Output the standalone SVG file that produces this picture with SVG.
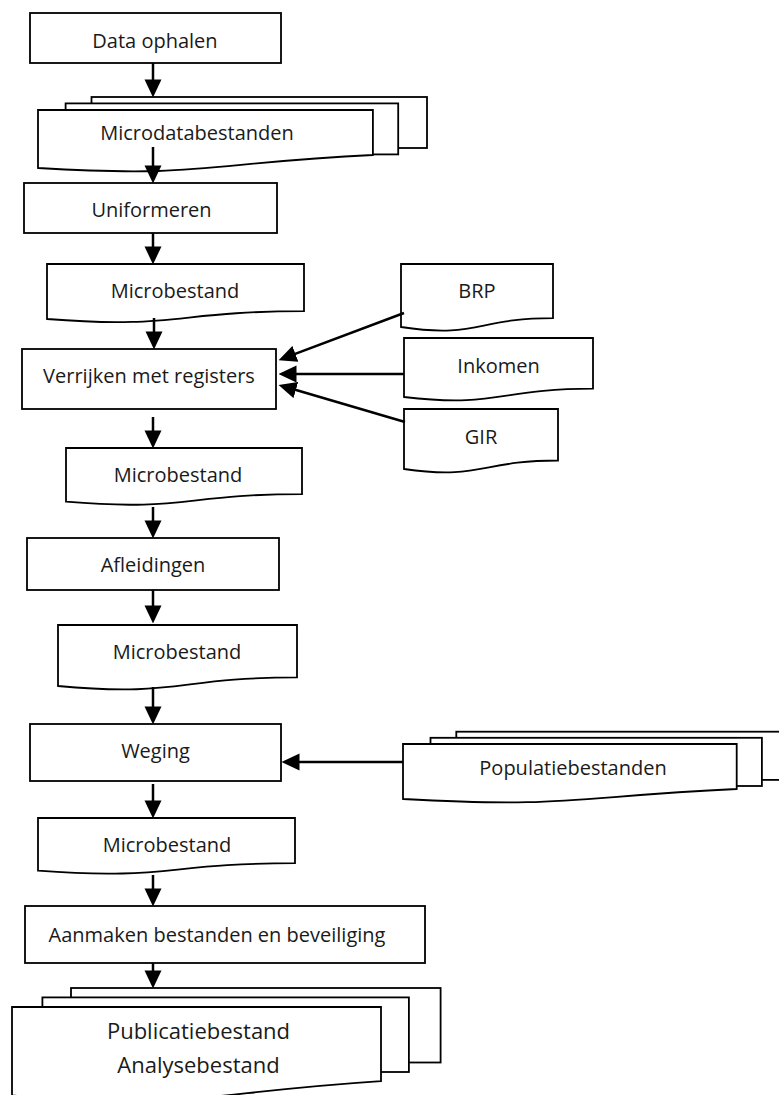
<svg xmlns="http://www.w3.org/2000/svg" width="779" height="1095" viewBox="0 0 779 1095">
<defs>
<style>
.box{fill:#fff;stroke:#000;stroke-width:1.8}
.t{font-family:"Open Sans","Noto Sans",sans-serif;font-size:20px;fill:#1a1a1a;text-anchor:middle}
.tb{font-size:22px}
.c{stroke:#000;stroke-width:2.5;fill:none;marker-end:url(#ah)}
</style>
<marker id="ah" markerUnits="userSpaceOnUse" markerWidth="18" markerHeight="18" viewBox="0 0 17 16" refX="9" refY="8" orient="auto">
<path d="M0,0 L17,8 L0,16 Z" fill="#000"/>
</marker>
</defs>
<rect width="779" height="1095" fill="#fff"/>

<g id="data-ophalen">
<rect class="box" x="30" y="13" width="251" height="50"/>
<text class="t" x="155" y="48">Data ophalen</text>
</g>

<g id="microdatabestanden">
<rect class="box" x="91.5" y="97" width="335.5" height="51"/>
<rect class="box" x="65.6" y="103.4" width="332.6" height="51"/>
<path class="box" d="M38,110 H372.9 V155 C205.3,163 205.3,178 38,168 Z"/>
<text class="t" x="197" y="140">Microdatabestanden</text>
</g>

<g id="uniformeren">
<rect class="box" x="24" y="183" width="253" height="50"/>
<text class="t" x="151.5" y="217">Uniformeren</text>
</g>

<g id="microbestand-1">
<path class="box" d="M47,264 H304 V311.2 C175.5,311.2 175.5,329.2 47,319 Z"/>
<text class="t" x="175" y="298">Microbestand</text>
</g>

<g id="verrijken">
<rect class="box" x="22" y="349" width="254" height="60"/>
<text class="t" x="149" y="383">Verrijken met registers</text>
</g>

<g id="brp">
<path class="box" d="M401,264 H553 V318.1 C477,318.1 477,338.7 401,327 Z"/>
<text class="t" x="477" y="298">BRP</text>
</g>

<g id="inkomen">
<path class="box" d="M404,338 H593 V388.7 C498.5,388.7 498.5,408 404,397 Z"/>
<text class="t" x="498.5" y="373">Inkomen</text>
</g>

<g id="gir">
<path class="box" d="M404,409 H558 V460.5 C481,460.5 481,480.1 404,469 Z"/>
<text class="t" x="481" y="444">GIR</text>
</g>

<g id="microbestand-2">
<path class="box" d="M66,448 H302 V494.1 C184,494.1 184,511.7 66,501.7 Z"/>
<text class="t" x="178" y="482">Microbestand</text>
</g>

<g id="afleidingen">
<rect class="box" x="27" y="538" width="252" height="52"/>
<text class="t" x="153" y="572">Afleidingen</text>
</g>

<g id="microbestand-3">
<path class="box" d="M58,625 H297 V677.4 C177.5,677.4 177.5,697.3 58,686 Z"/>
<text class="t" x="177" y="659">Microbestand</text>
</g>

<g id="weging">
<rect class="box" x="30" y="724" width="251" height="57"/>
<text class="t" x="155.5" y="758">Weging</text>
</g>

<g id="populatiebestanden">
<rect class="box" x="456.3" y="731.7" width="334.3" height="48.2"/>
<rect class="box" x="430.5" y="737.8" width="331.4" height="48.2"/>
<path class="box" d="M403,744 H736.7 V789 C569.7,797 569.7,808 403,799 Z"/>
<text class="t" x="573" y="775">Populatiebestanden</text>
</g>

<g id="microbestand-4">
<path class="box" d="M38,818 H295 V863.2 C166.5,863.2 166.5,880.5 38,870.7 Z"/>
<text class="t" x="167" y="852">Microbestand</text>
</g>

<g id="aanmaken">
<rect class="box" x="25" y="906" width="400" height="57"/>
<text class="t" x="217" y="942">Aanmaken bestanden en beveiliging</text>
</g>

<g id="publicatiebestand">
<rect class="box" x="71" y="988" width="369.6" height="74.5"/>
<rect class="box" x="42.4" y="997.4" width="366.5" height="74.6"/>
<path class="box" d="M12,1007 H381 V1081.2 C196.3,1093.4 196.3,1109.9 12,1095.5 Z"/>
<text class="t tb" x="198.5" y="1039">Publicatiebestand</text>
<text class="t tb" x="198.5" y="1073">Analysebestand</text>
</g>

<g id="connectors">
<line class="c" x1="153" y1="63" x2="153" y2="89"/>
<line class="c" x1="153" y1="147" x2="153" y2="175"/>
<line class="c" x1="153" y1="233" x2="153" y2="256"/>
<line class="c" x1="154" y1="318" x2="154" y2="341"/>
<line class="c" x1="153" y1="417" x2="153" y2="440"/>
<line class="c" x1="153" y1="507" x2="153" y2="530"/>
<line class="c" x1="153" y1="590" x2="153" y2="615"/>
<line class="c" x1="153" y1="687" x2="153" y2="716"/>
<line class="c" x1="153" y1="784" x2="153" y2="810"/>
<line class="c" x1="153" y1="875" x2="153" y2="898"/>
<line class="c" x1="153" y1="963" x2="153" y2="980"/>
<line class="c" x1="404" y1="313" x2="286.5" y2="357.2"/>
<line class="c" x1="404" y1="374" x2="287" y2="374"/>
<line class="c" x1="405" y1="422" x2="286.7" y2="387.3"/>
<line class="c" x1="403" y1="762" x2="290" y2="762"/>
</g>
</svg>
